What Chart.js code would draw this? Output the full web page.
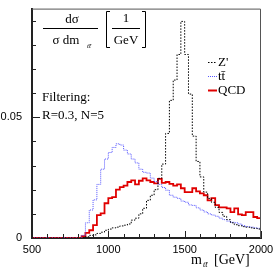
<!DOCTYPE html>
<html>
<head>
<meta charset="utf-8">
<script src="https://cdn.jsdelivr.net/npm/chart.js@4.4.0/dist/chart.umd.min.js"></script>
<style>
  body { margin: 0; background: #fff; }
  canvas { display: block; }
</style>
</head>
<body>
<canvas id="c" width="273" height="268"></canvas>
<script>
// histogram bins: 25 GeV from 500 to 2000
const binStart = 500
const binWidth = 25
const xTicks = [500, 1000, 1500, 2000]
const yTicks = [0, 0.05]

const zprime = [
  0, 0, 0, 0, 0, 0, 0, 0, 0, 0,
  0, 0, 0, 0, 0.0005, 0.0011, 0.0013, 0.0019, 0.0024, 0.0032,
  0.0037, 0.0042, 0.0045, 0.005, 0.0053, 0.0058, 0.0074, 0.0082, 0.01, 0.0123,
  0.0156, 0.0177, 0.02, 0.0247, 0.0306, 0.0433, 0.057, 0.0654, 0.076, 0.0897,
  0.076, 0.0596, 0.0422, 0.0317, 0.0253, 0.019, 0.0164, 0.0148, 0.0127, 0.0106,
  0.009, 0.0076, 0.0063, 0.0055, 0.0051, 0.0047, 0.0045, 0.0042, 0.004, 0.0037
]
const ttbar = [
  0, 0, 0, 0, 0, 0, 0, 0, 0, 0,
  0, 0, 0, 0.0011, 0.0063, 0.0116, 0.0158, 0.0222, 0.0285, 0.0327,
  0.0354, 0.0375, 0.039, 0.0385, 0.0364, 0.0348, 0.0327, 0.0311, 0.0285, 0.0272,
  0.0269, 0.0248, 0.0234, 0.0222, 0.0209, 0.0198, 0.0177, 0.0169, 0.0164, 0.0153,
  0.0148, 0.0137, 0.0135, 0.0125, 0.0116, 0.0108, 0.01, 0.0095, 0.009, 0.0082,
  0.0076, 0.007, 0.0065, 0.0063, 0.0058, 0.0051, 0.0047, 0.0045, 0.0042, 0.004
]
const qcd = [
  0, 0, 0, 0, 0, 0, 0, 0, 0, 0,
  0, 0, 0, 0.0008, 0.0021, 0.0032, 0.0053, 0.0095, 0.0102, 0.0144,
  0.0165, 0.0169, 0.02, 0.0211, 0.0217, 0.0232, 0.0239, 0.0222, 0.0237, 0.0247,
  0.0239, 0.0232, 0.0226, 0.0245, 0.0228, 0.0232, 0.0224, 0.0217, 0.0222, 0.0206,
  0.019, 0.019, 0.0206, 0.0193, 0.0185, 0.0177, 0.0156, 0.0165, 0.0136, 0.0127,
  0.0127, 0.0123, 0.0107, 0.0123, 0.0098, 0.0095, 0.0107, 0.0107, 0.0087, 0.0082
]

// turn bin contents into step points (left edges + closing right edge)
function steps(vals) {
  const pts = vals.map((v, i) => ({ x: binStart + i * binWidth, y: v }))
  pts.push({ x: binStart + vals.length * binWidth, y: vals[vals.length - 1] })
  return pts
}

const serif = '"Liberation Serif", "DejaVu Serif", serif'
const sans = '"Liberation Sans", Arial, sans-serif'

const decorations = {
  id: 'decorations',
  afterDraw(chart) {
    const ctx = chart.ctx
    const xs = chart.scales.x
    const ys = chart.scales.y
    const a = chart.chartArea
    ctx.save()

    // thin top/right frame
    ctx.strokeStyle = '#555'
    ctx.lineWidth = 1
    ctx.beginPath()
    ctx.moveTo(a.left, a.top + 0.5)
    ctx.lineTo(a.right - 0.5, a.top + 0.5)
    ctx.lineTo(a.right - 0.5, a.bottom)
    ctx.stroke()

    // inward ticks
    ctx.strokeStyle = '#222'
    ctx.lineWidth = 1
    ctx.beginPath()
    for (let v = 500; v <= 2000; v += 100) {
      const px = Math.round(xs.getPixelForValue(v)) + 0.5
      const len = v % 500 === 0 ? 7 : 4
      ctx.moveTo(px, a.bottom)
      ctx.lineTo(px, a.bottom - len)
    }
    for (let k = 0; k <= 9; k++) {
      const py = Math.round(ys.getPixelForValue(k / 100)) + 0.5
      const len = k === 5 ? 8 : 4
      ctx.moveTo(a.left, py)
      ctx.lineTo(a.left + len, py)
    }
    ctx.stroke()

    ctx.fillStyle = '#000'
    ctx.textBaseline = 'alphabetic'

    // x axis title
    ctx.textAlign = 'left'
    ctx.font = '14px ' + serif
    ctx.fillText('m', 191, 264)
    ctx.font = 'italic 8px ' + serif
    ctx.fillText('tt̄', 203, 267)
    ctx.font = '14px ' + serif
    ctx.fillText('[GeV]', 214, 264)

    // y axis title: dσ / (σ dm) [1/GeV]
    ctx.font = '13px ' + serif
    ctx.textAlign = 'center'
    ctx.fillText('dσ', 72, 23)
    ctx.fillText('σ dm', 66, 44)
    ctx.font = 'italic 7px ' + serif
    ctx.fillText('tt̄', 89, 48)
    ctx.font = '13px ' + serif
    ctx.fillText('1', 126, 22)
    ctx.fillText('GeV', 126, 44)
    ctx.strokeStyle = '#000'
    ctx.lineWidth = 1
    ctx.beginPath()
    ctx.moveTo(43, 28.5); ctx.lineTo(98, 28.5)
    ctx.moveTo(112, 28.5); ctx.lineTo(140, 28.5)
    // brackets
    ctx.moveTo(110, 11.5); ctx.lineTo(106.5, 11.5); ctx.lineTo(106.5, 47.5); ctx.lineTo(110, 47.5)
    ctx.moveTo(142, 11.5); ctx.lineTo(145.5, 11.5); ctx.lineTo(145.5, 47.5); ctx.lineTo(142, 47.5)
    ctx.stroke()

    // filtering text
    ctx.textAlign = 'left'
    ctx.font = '13px ' + serif
    ctx.fillText('Filtering:', 42, 101)
    ctx.fillText('R=0.3, N=5', 42, 119)

    // legend
    const entries = [
      { label: "Z'", color: '#000', dash: [1.5, 1.5], width: 1, y: 62 },
      { label: 'tt̄', color: '#5555ff', dash: [1, 1], width: 1, y: 76 },
      { label: 'QCD', color: '#e00000', dash: [], width: 2, y: 90 }
    ]
    entries.forEach(e => {
      ctx.strokeStyle = e.color
      ctx.lineWidth = e.width
      ctx.setLineDash(e.dash)
      ctx.beginPath()
      ctx.moveTo(208, e.y + 0.5)
      ctx.lineTo(217, e.y + 0.5)
      ctx.stroke()
      ctx.setLineDash([])
      ctx.fillStyle = '#000'
      ctx.font = '13px ' + serif
      ctx.textBaseline = 'middle'
      ctx.fillText(e.label, 218, e.y + 1)
    })
    ctx.restore()
  }
}

new Chart(document.getElementById('c'), {
  type: 'line',
  data: {
    datasets: [
      {
        label: "Z'",
        data: steps(zprime),
        borderColor: '#000',
        borderWidth: 1,
        borderDash: [1.5, 1.5],
        stepped: 'before',
        pointRadius: 0,
        fill: false
      },
      {
        label: 'tt̄',
        data: steps(ttbar),
        borderColor: '#5555ff',
        borderWidth: 1,
        borderDash: [1, 1],
        stepped: 'before',
        pointRadius: 0,
        fill: false
      },
      {
        label: 'QCD',
        data: steps(qcd),
        borderColor: '#e00000',
        borderWidth: 1.8,
        stepped: 'before',
        pointRadius: 0,
        fill: false
      }
    ]
  },
  options: {
    responsive: false,
    animation: false,
    layout: { padding: { top: 7, right: 12, left: 0, bottom: 0 } },
    plugins: { legend: { display: false }, tooltip: { enabled: false } },
    scales: {
      x: {
        type: 'linear',
        min: 500,
        max: 2000,
        grid: { display: false },
        border: { display: true, color: '#222', width: 2 },
        afterFit: s => { s.height = 30 },
        afterBuildTicks: s => { s.ticks = xTicks.map(v => ({ value: v })) },
        ticks: {
          font: { family: sans, size: 11 },
          color: '#000',
          padding: -3,
          maxRotation: 0,
          autoSkip: false,
          callback: v => String(v)
        }
      },
      y: {
        min: 0,
        max: 0.095,
        grid: { display: false },
        border: { display: true, color: '#222', width: 2 },
        afterFit: s => { s.width = 32 },
        afterBuildTicks: s => { s.ticks = yTicks.map(v => ({ value: v })) },
        ticks: {
          font: { family: sans, size: 11 },
          color: '#000',
          padding: 2,
          callback: v => v === 0 ? '0' : String(v)
        }
      }
    }
  },
  plugins: [decorations]
})
</script>
</body>
</html>
